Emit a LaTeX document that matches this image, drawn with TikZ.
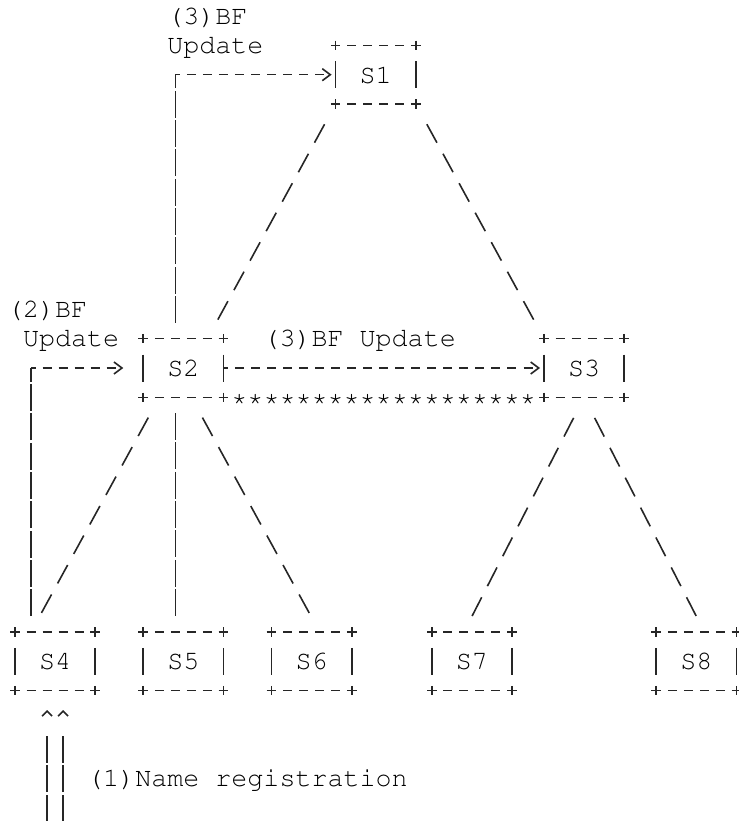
\documentclass[tikz,border=0pt]{standalone}
\usepackage[T1,TU]{fontenc}
\usepackage{tikz}
\usetikzlibrary{arrows.meta}
\usetikzlibrary{calc}
\usetikzlibrary{positioning}
\tikzset{>={Straight Barb[length=4pt,width=6pt]}}
\newcommand{\asciifont}{\fontencoding{T1}\fontfamily{pcr}\fontsize{13.36}{14.67}\selectfont}

\begin{document}
\begin{tikzpicture}[x=1pt,y=-1pt,line width=0.8pt,draw=black!85,
  box/.style={rectangle,inner sep=0pt,outer sep=0pt,minimum width=40.08pt,minimum height=29.33pt,font=\asciifont},
  lbl/.style={inner sep=0pt,outer sep=0pt,align=left,anchor=base west,font=\asciifont},
  hyph/.style={dash pattern=on 4.5pt off 3.515pt,dash phase=2.25pt},
  bar/.style={dash pattern=on 13.5pt off 1.167pt,dash phase=14.087pt,shorten <=7.33pt},
  diag/.style={dash pattern=on 10.5pt off 6.3pt,dash phase=10.5pt,shorten <=5.25pt,shorten >=5.25pt},
  regline/.style={dash pattern=on 13.5pt off 1.167pt on 13.5pt off 1.167pt on 13.5pt off 30pt,
                  -{Straight Barb[length=2.5pt,width=5pt]},shorten >=9.67pt}]

\useasboundingbox (0,0) rectangle (369.5,410.5);

\node (S1) [box] at (187.85,37.33) {S1};
\node (S2) [box] at (91.68,184) {S2};
\node (S3) [box,right=160.3pt of S2] {S3};
\node (S5) [box,below=117.33pt of S2] {S5};
\node (S4) [box,left=24.05pt of S5] {S4};
\node (S6) [box,right=24.05pt of S5] {S6};
\node (S7) [box,right=40.07pt of S6] {S7};
\node (S8) [box,right=72.14pt of S7] {S8};

\foreach \i in {1,...,8} {
  \draw [hyph] (S\i.north west) -- (S\i.north east);
  \draw [hyph] (S\i.south west) -- (S\i.south east);
  \draw (S\i.west) ++(0,-6.75) -- ++(0,13.5);
  \draw (S\i.east) ++(0,-6.75) -- ++(0,13.5);
  \foreach \c in {north west,north east,south west,south east}
    \draw (S\i.\c) ++(-2.4,0) -- ++(4.8,0) (S\i.\c) ++(0,-2.4) -- ++(0,4.8);
}

\node (bf3) [lbl] at (83.65,26.67) {(3)BF\\Update};
\node (bf2) [lbl] at (3.5,173.33) {(2)BF\\\phantom{-}Update};
\node (bf3s) [lbl] at (131.74,173.33) {(3)BF Update};
\node (reg) [lbl] at (43.58,393.33) {(1)Name registration};

\coordinate (up3a) at ([xshift=-4pt]S2.north);
\coordinate (up3b) at (up3a |- S1.west);
\draw [bar] (up3a) -- (up3b);
\draw [hyph,->,shorten >=2pt] (up3b) -- (S1.west);

\coordinate (up2a) at ([xshift=-12.02pt]S4.north);
\coordinate (up2b) at (up2a |- S2.west);
\draw [bar] (up2a) -- (up2b);
\draw [hyph,->,shorten >=10pt] (up2b) -- (S2.west);

\draw [hyph,->,shorten >=2pt] (S2.east) -- (S3.west);

\foreach \k in {1,...,19}
  \node (star\k) [font=\asciifont,inner sep=0pt,anchor=base,yshift=-4pt] at ($(S2.south east)!\k/20!(S3.south west)$) {*};

\draw [diag] (S1.south west) -- ([xshift=-8pt]S2.north east);
\draw [diag] (S1.south east) -- (S3.north west);
\draw [diag] ([xshift=-12pt]S2.south) -- ([xshift=8pt]S4.north west);
\draw [bar,shorten >=7.33pt] ([xshift=-4pt]S2.south) -- ([xshift=-4pt]S5.north);
\draw [diag] ([xshift=4pt]S2.south) -- ([xshift=4pt]S6.north);
\draw [diag] (S3.south) -- ([xshift=-4pt]S7.north);
\draw [diag] (S3.south) -- ([xshift=4pt]S8.north);

\coordinate (reg1) at ($(S4.south)+(-4,65.42)$);
\coordinate (reg2) at ($(S4.south)+(4,65.42)$);
\draw [regline] (reg1) -- ([xshift=-4pt]S4.south);
\draw [regline] (reg2) -- ([xshift=4pt]S4.south);

\end{tikzpicture}
\end{document}
